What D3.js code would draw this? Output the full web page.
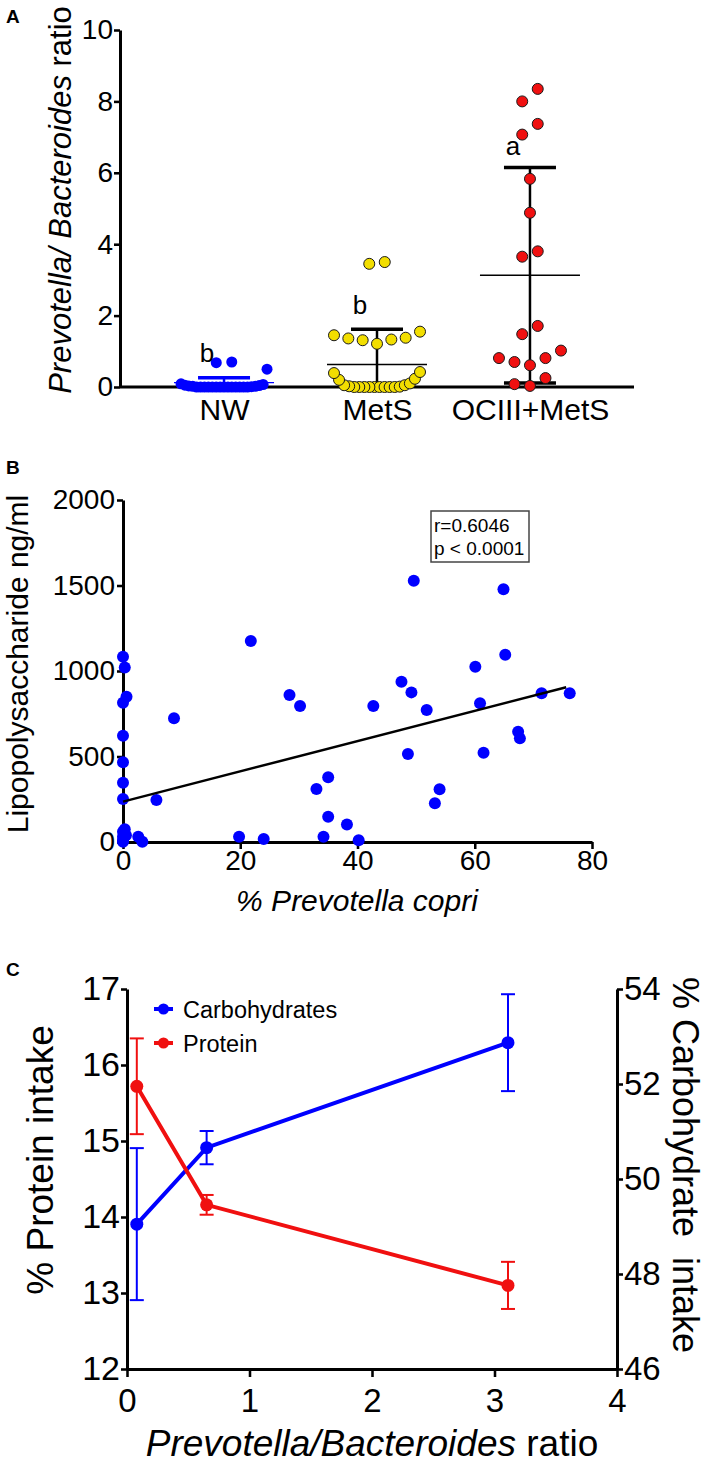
<!DOCTYPE html>
<html>
<head>
<meta charset="utf-8">
<script src="https://cdn.jsdelivr.net/npm/d3@7"></script>
<style>
  body { margin: 0; background: #fff; }
  text { white-space: pre; }
</style>
</head>
<body>
<div id="chart"></div>
<script>
// ---- panel A data ----
const groupNames = ['NW', 'MetS', 'OCIII+MetS'];
const nwValues = [0, 0, 0, 0, 0, 0, 0, 0, 0, 0, 0, 0, 0, 0, 0.01, 0.02, 0.02, 0.03, 0.04, 0.05, 0.07, 0.09, 0.5, 0.68, 0.7];
const metsValues = [0, 0, 0, 0, 0, 0, 0, 0, 0, 0.01, 0.02, 0.05, 0.05, 0.1, 0.2, 0.23, 0.39, 0.42,
  1.21, 1.31, 1.33, 1.36, 1.38, 1.45, 1.55, 3.45, 3.5];
const ociiiValues = [0.03, 0.08, 0.25, 0.61, 0.7, 0.81, 0.81, 1.02, 1.48, 1.71, 3.65, 3.8, 4.88, 5.83, 7.07, 7.37, 8.0, 8.35];
const groupMeans = [0.12, 0.63, 3.13];
const groupSDs = [0.14, 0.99, 3.02];
const groupLetters = ['b', 'b', 'a'];
const letterValues = [0.7, 2.05, 6.5];
const ratioTicks = [0, 2, 4, 6, 8, 10];

// ---- panel B data ----
const copriPct = [0, 0.3, 0.6, 0, 0, 0, 0, 0, 0, 0, 0, 0.3, 0.5, 0,
  2.6, 3.3, 5.7, 8.7, 21.8, 28.4, 30.2, 19.8, 24, 33, 35, 35, 34.2, 38.2, 40.2,
  49.6, 64.9, 65.2, 60.1, 47.5, 49.2, 42.7, 51.8, 60.9, 71.4, 76.2, 67.4, 67.7, 48.6, 61.5, 54, 53.2];
const lpsValues = [1083, 1020, 850, 815, 621, 466, 347, 251, 60, 31, 2, 75, 40, 10,
  31, 2, 245, 723, 1175, 860, 795, 31, 17, 310, 378, 148, 31, 103, 10,
  1528, 1478, 1095, 1025, 937, 875, 795, 772, 811, 870, 870, 645, 606, 515, 522, 308, 226];
const fitX = [0, 75.6];
const fitY = [236, 905];
const statLines = ['r=0.6046', 'p < 0.0001'];
const lpsTicks = [0, 500, 1000, 1500, 2000];
const copriTicks = [0, 20, 40, 60, 80];

// ---- panel C data ----
const ratioX = [0.08, 0.65, 3.11];
const proteinMean = [15.72, 14.16, 13.1];
const proteinSem = [0.63, 0.13, 0.31];
const carbMean = [49.05, 50.66, 52.87];
const carbSem = [1.6, 0.35, 1.02];
const proteinTicks = [12, 13, 14, 15, 16, 17];
const carbTicks = [46, 48, 50, 52, 54];
const ratioTicksC = [0, 1, 2, 3, 4];
const legendNames = ['Carbohydrates', 'Protein'];

const FONT = "'Liberation Sans', Arial, Helvetica, sans-serif";
const BLUE = '#0000ff';
const RED = '#f01010';
const YELLOW = '#f2de00';
const fmt = d3.format('d');

const svg = d3.select('#chart').append('svg')
  .attr('width', 709)
  .attr('height', 1471)
  .style('background', '#fff');

function styleAxis(g, size, lw) {
  g.attr('font-family', FONT).attr('font-size', size);
  g.select('.domain').attr('stroke', '#000').attr('stroke-width', lw);
  g.selectAll('.tick line').attr('stroke', '#000').attr('stroke-width', lw * 0.85);
  g.selectAll('.tick text').attr('fill', '#000');
}

function panelLabel(t, x, y) {
  svg.append('text').attr('x', x).attr('y', y)
    .attr('font-family', FONT).attr('font-weight', 'bold').attr('font-size', 19)
    .text(t);
}

// simple GraphPad-like column scatter: rows of similar value, spread centre-out
function swarmOffsets(values, binSize, spacing, halfW) {
  const order = values.map((v, i) => i).sort((a, b) => values[a] - values[b]);
  const rows = [];
  let cur = null;
  order.forEach(i => {
    if (!cur || values[i] - cur.start > binSize) {
      cur = { start: values[i], items: [] };
      rows.push(cur);
    }
    cur.items.push(i);
  });
  const offs = new Array(values.length).fill(0);
  rows.forEach(row => {
    const n = row.items.length;
    const sp = n > 1 ? Math.min(spacing, 2 * halfW / (n - 1)) : 0;
    row.items.forEach((i, k) => {
      let slot;
      if (n % 2 === 1) {
        slot = k === 0 ? 0 : (k % 2 === 1 ? -(k + 1) / 2 : k / 2);
      } else {
        const m = Math.floor(k / 2);
        slot = (k % 2 === 0 ? -1 : 1) * (m + 0.5);
      }
      offs[i] = slot * sp;
    });
  });
  return offs;
}

// ================= panel A =================
panelLabel('A', 6, 23);
const yA = d3.scaleLinear().domain([0, 10]).range([387, 30]);
const xA = d3.scalePoint().domain(groupNames).range([120, 634]).padding(0.68);

const yAxisA = svg.append('g').attr('transform', 'translate(120,0)')
  .call(d3.axisLeft(yA).tickValues(ratioTicks).tickFormat(fmt)
    .tickSize(6).tickPadding(1).tickSizeOuter(0));
styleAxis(yAxisA, 28, 3);

const xAxisA = svg.append('g').attr('transform', 'translate(0,387)')
  .call(d3.axisBottom(xA).tickSize(0).tickPadding(12).tickSizeOuter(0));
styleAxis(xAxisA, 30, 3);
xAxisA.select('.domain').attr('d', 'M120,0H634');

const titleA = svg.append('text')
  .attr('transform', 'translate(71,200) rotate(-90)')
  .attr('text-anchor', 'middle')
  .attr('font-family', FONT).attr('font-size', 31);
titleA.append('tspan').attr('font-style', 'italic').text('Prevotella/ Bacteroides');
titleA.append('tspan').text(' ratio');

const groupData = [nwValues, metsValues, ociiiValues];
const dotFill = [BLUE, YELLOW, RED];
const dotStroke = ['none', '#1a1a1a', '#1a1a1a'];
const dotR = [5.5, 5.5, 5.5];
const barColor = [BLUE, '#000', '#000'];

groupNames.forEach((name, gi) => {
  const cx = xA(name);
  const mean = groupMeans[gi];
  const sd = groupSDs[gi];
  const hi = mean + sd;
  const lo = Math.max(0, mean - sd);
  const bars = svg.append('g').attr('stroke', barColor[gi]);
  bars.append('line').attr('x1', cx).attr('x2', cx)
    .attr('y1', yA(hi)).attr('y2', yA(lo)).attr('stroke-width', 2.5);
  bars.append('line').attr('x1', cx - 26).attr('x2', cx + 26)
    .attr('y1', yA(hi)).attr('y2', yA(hi)).attr('stroke-width', 3.5);
  if (mean - sd > 0) {
    bars.append('line').attr('x1', cx - 26).attr('x2', cx + 26)
      .attr('y1', yA(lo)).attr('y2', yA(lo)).attr('stroke-width', 3.5);
  }
  bars.append('line').attr('x1', cx - 50).attr('x2', cx + 50)
    .attr('y1', yA(mean)).attr('y2', yA(mean)).attr('stroke-width', 1.3);
});

groupNames.forEach((name, gi) => {
  const vals = groupData[gi];
  const offs = swarmOffsets(vals, 0.5, 15.5, 43);
  svg.append('g').selectAll('circle')
    .data(vals)
    .enter()
    .append('circle')
    .attr('cx', (d, i) => xA(name) + offs[i])
    .attr('cy', d => yA(d))
    .attr('r', dotR[gi])
    .attr('fill', dotFill[gi])
    .attr('stroke', dotStroke[gi])
    .attr('stroke-width', 1);
});

svg.append('g').selectAll('text')
  .data(groupLetters)
  .enter()
  .append('text')
  .attr('x', (d, i) => xA(groupNames[i]) - 17)
  .attr('y', (d, i) => yA(letterValues[i]))
  .attr('text-anchor', 'middle')
  .attr('font-family', FONT).attr('font-size', 26)
  .text(d => d);

// ================= panel B =================
panelLabel('B', 6, 474);
const xB = d3.scaleLinear().domain([0, 80]).range([123, 592]);
const yB = d3.scaleLinear().domain([0, 2000]).range([842, 500]);

const yAxisB = svg.append('g').attr('transform', 'translate(123,0)')
  .call(d3.axisLeft(yB).tickValues(lpsTicks).tickFormat(fmt)
    .tickSize(6).tickPadding(2).tickSizeOuter(0));
styleAxis(yAxisB, 28, 3);
const xAxisB = svg.append('g').attr('transform', 'translate(0,842)')
  .call(d3.axisBottom(xB).tickValues(copriTicks).tickFormat(fmt)
    .tickSize(7).tickPadding(1).tickSizeOuter(0));
styleAxis(xAxisB, 28, 3);

svg.append('text')
  .attr('transform', 'translate(28,664) rotate(-90)')
  .attr('text-anchor', 'middle')
  .attr('font-family', FONT).attr('font-size', 30)
  .text('Lipopolysaccharide ng/ml');

svg.append('text')
  .attr('x', 357).attr('y', 911)
  .attr('text-anchor', 'middle')
  .attr('font-family', FONT).attr('font-size', 30).attr('font-style', 'italic')
  .text('% Prevotella copri');

svg.append('g').selectAll('circle')
  .data(copriPct)
  .enter()
  .append('circle')
  .attr('cx', d => xB(d))
  .attr('cy', (d, i) => yB(lpsValues[i]))
  .attr('r', 6)
  .attr('fill', BLUE);

svg.append('line')
  .attr('x1', xB(fitX[0])).attr('y1', yB(fitY[0]))
  .attr('x2', xB(fitX[1])).attr('y2', yB(fitY[1]))
  .attr('stroke', '#000').attr('stroke-width', 2.5);

svg.append('rect')
  .attr('x', 431).attr('y', 511).attr('width', 98).attr('height', 51)
  .attr('fill', '#fff').attr('stroke', '#444').attr('stroke-width', 1.5);
svg.append('g').selectAll('text')
  .data(statLines)
  .enter()
  .append('text')
  .attr('x', 434)
  .attr('y', (d, i) => 532 + i * 23)
  .attr('font-family', FONT).attr('font-size', 19)
  .text(d => d);

// ================= panel C =================
panelLabel('C', 6, 976);
const xC = d3.scaleLinear().domain([0, 4]).range([127, 617]);
const yProt = d3.scaleLinear().domain([12, 17]).range([1369, 989]);
const yCarb = d3.scaleLinear().domain([46, 54]).range([1369, 989]);

const leftC = svg.append('g').attr('transform', 'translate(127,0)')
  .call(d3.axisLeft(yProt).tickValues(proteinTicks).tickFormat(fmt)
    .tickSize(6).tickPadding(1).tickSizeOuter(0));
styleAxis(leftC, 34, 3);
const rightC = svg.append('g').attr('transform', 'translate(617,0)')
  .call(d3.axisRight(yCarb).tickValues(carbTicks).tickFormat(fmt)
    .tickSize(6).tickPadding(1).tickSizeOuter(0));
styleAxis(rightC, 33, 3);
const bottomC = svg.append('g').attr('transform', 'translate(0,1369)')
  .call(d3.axisBottom(xC).tickValues(ratioTicksC).tickFormat(fmt)
    .tickSize(8).tickPadding(12).tickSizeOuter(0));
styleAxis(bottomC, 33, 3);

svg.append('text')
  .attr('transform', 'translate(53,1160) rotate(-90)')
  .attr('text-anchor', 'middle')
  .attr('font-family', FONT).attr('font-size', 37)
  .text('% Protein intake');

svg.append('text')
  .attr('transform', 'translate(673,1165) rotate(90)')
  .attr('text-anchor', 'middle')
  .attr('font-family', FONT).attr('font-size', 36)
  .text('% Carbohydrate  intake');

const titleC = svg.append('text')
  .attr('x', 372).attr('y', 1456)
  .attr('text-anchor', 'middle')
  .attr('font-family', FONT).attr('font-size', 37);
titleC.append('tspan').attr('font-style', 'italic').text('Prevotella/Bacteroides');
titleC.append('tspan').text(' ratio');

function drawSeries(means, sems, yScale, color) {
  const g = svg.append('g');
  const line = d3.line().x((d, i) => xC(ratioX[i])).y(d => yScale(d));
  g.append('path').datum(means)
    .attr('d', line).attr('fill', 'none')
    .attr('stroke', color).attr('stroke-width', 4);
  means.forEach((m, i) => {
    const x = xC(ratioX[i]);
    g.append('line').attr('x1', x).attr('x2', x)
      .attr('y1', yScale(m + sems[i])).attr('y2', yScale(m - sems[i]))
      .attr('stroke', color).attr('stroke-width', 2);
    [m + sems[i], m - sems[i]].forEach(v => {
      g.append('line').attr('x1', x - 7).attr('x2', x + 7)
        .attr('y1', yScale(v)).attr('y2', yScale(v))
        .attr('stroke', color).attr('stroke-width', 2);
    });
  });
  g.selectAll('circle').data(means).enter().append('circle')
    .attr('cx', (d, i) => xC(ratioX[i]))
    .attr('cy', d => yScale(d))
    .attr('r', 6.5)
    .attr('fill', color);
}
drawSeries(carbMean, carbSem, yCarb, BLUE);
drawSeries(proteinMean, proteinSem, yProt, RED);

const legendColors = [BLUE, RED];
const legend = svg.append('g').selectAll('g')
  .data(legendNames)
  .enter()
  .append('g')
  .attr('transform', (d, i) => `translate(154,${1009 + i * 34})`);
legend.append('line').attr('x1', 0).attr('x2', 19)
  .attr('stroke', (d, i) => legendColors[i]).attr('stroke-width', 4);
legend.append('circle').attr('cx', 9.5).attr('r', 5.5)
  .attr('fill', (d, i) => legendColors[i]);
legend.append('text').attr('x', 29).attr('y', 9)
  .attr('font-family', FONT).attr('font-size', 23.5)
  .text(d => d);
</script>
</body>
</html>
